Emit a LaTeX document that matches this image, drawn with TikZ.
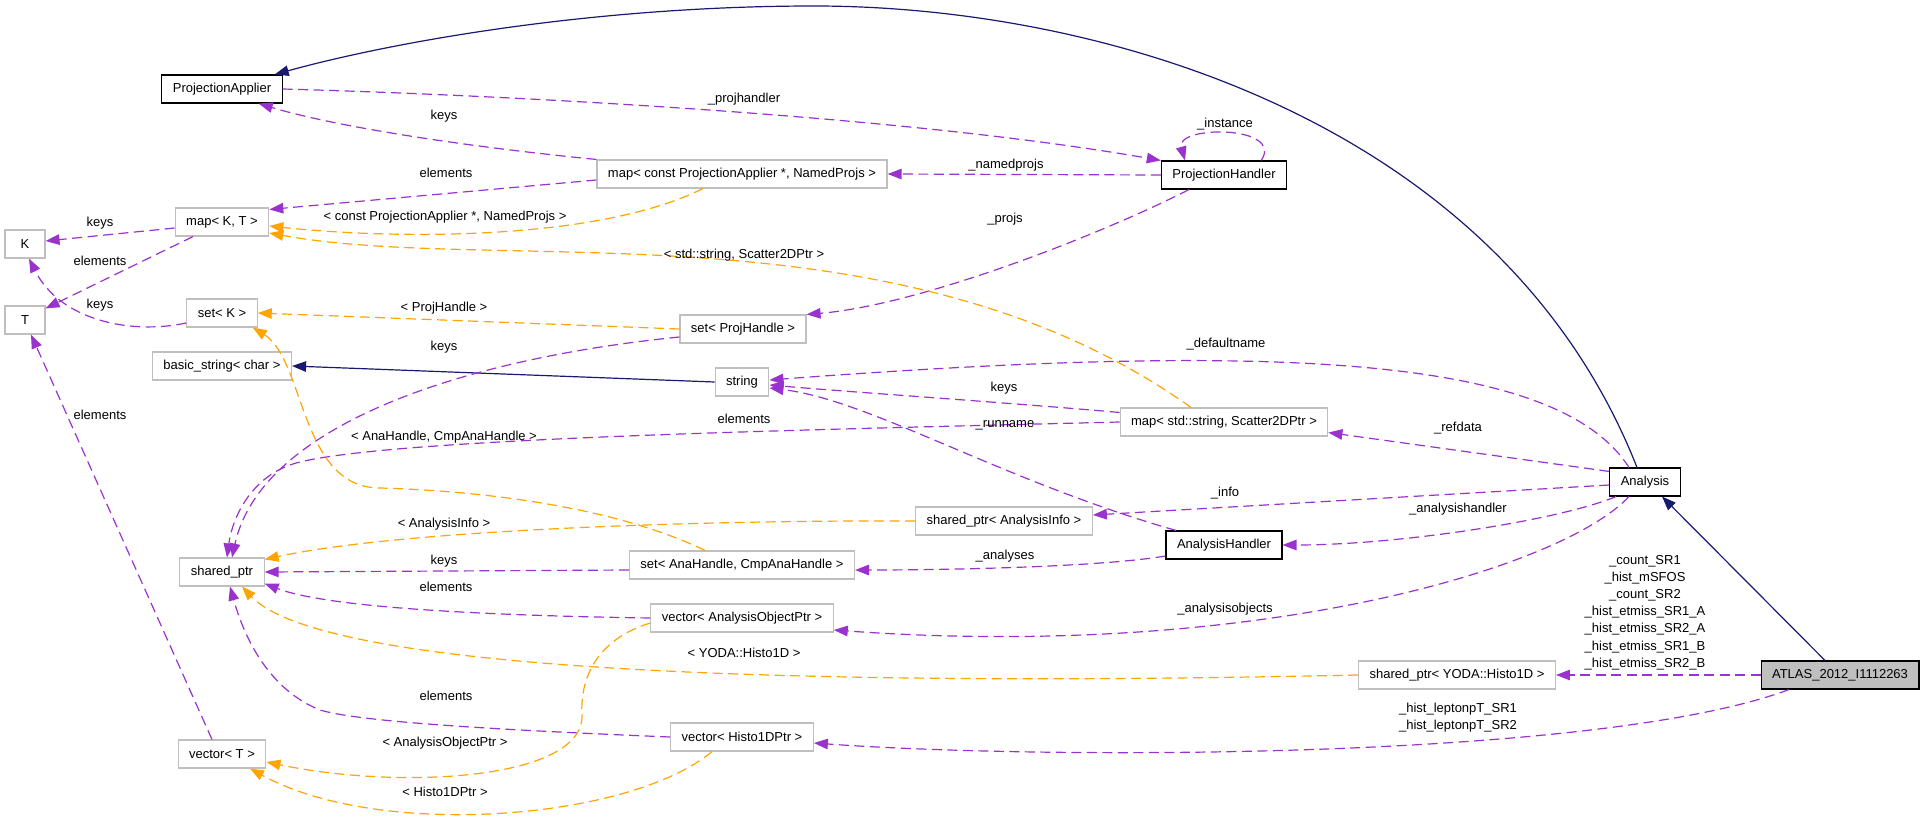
\documentclass[tikz,border=0pt]{standalone}
\usepackage{fontspec}
\setmainfont{Liberation Sans}
\usetikzlibrary{arrows.meta}
\definecolor{usecol}{HTML}{9A32CD}
\definecolor{instcol}{HTML}{FFA500}
\definecolor{inhcol}{HTML}{191970}
\definecolor{boxgray}{HTML}{BFBFBF}

\begin{document}
\begin{tikzpicture}[x=1pt,y=-1pt]
    \tikzset{
      every node/.style = {font = \fontsize{13}{17.2}\selectfont},
      Box/.style = {rectangle, draw = boxgray, line width = 1.1pt,
                    minimum height = 28pt, minimum width = 40pt,
                    inner xsep = 11pt, inner ysep = 0pt},
      ClassBox/.style = {Box, draw = black},
      MainBox/.style = {Box, draw = black, fill = boxgray},
      Lbl/.style = {inner sep = 0pt, align = center},
      UseEdge/.style = {usecol, line width = 1.2pt, dash pattern = on 10pt off 5.5pt,
                        -{Triangle[length = 14pt, width = 10.5pt]}},
      InstEdge/.style = {UseEdge, instcol},
      InhEdge/.style = {inhcol, line width = 1.2pt,
                        -{Triangle[length = 14pt, width = 10.5pt]}} }

      \fill[white] (0,0) rectangle (1923,824);
      \useasboundingbox (0,0) rectangle (1923,824);

      % left column
      \node[ClassBox] (pa)    at (222,89)  {ProjectionApplier};
      \node[Box]      (mapkt) at (222,222) {map< K, T >};
      \node[Box]      (K)     at (25,244)  {K};
      \node[Box]      (T)     at (25,320)  {T};
      \node[Box]      (setk)  at (222,313) {set< K >};
      \node[Box]      (bstr)  at (222,366) {basic\_string< char >};
      \node[Box]      (sptr)  at (222,572) {shared\_ptr};
      \node[Box]      (vect)  at (222,754) {vector< T >};

      % middle column
      \node[Box] (mapc)   at (742,174) {map< const ProjectionApplier *, NamedProjs >};
      \node[Box] (setph)  at (743,329) {set< ProjHandle >};
      \node[Box] (str)    at (742,382) {string};
      \node[Box] (setah)  at (742,565) {set< AnaHandle, CmpAnaHandle >};
      \node[Box] (vecaop) at (742,618) {vector< AnalysisObjectPtr >};
      \node[Box] (vech)   at (742,737) {vector< Histo1DPtr >};
      \node[Box] (sai)    at (1004,521) {shared\_ptr< AnalysisInfo >};

      % right part
      \node[ClassBox] (ph)    at (1224,175) {ProjectionHandler};
      \node[Box]      (mapss) at (1224,422) {map< std::string, Scatter2DPtr >};
      \node[ClassBox] (ah)    at (1224,545) {AnalysisHandler};
      \node[ClassBox] (ana)   at (1645,482) {Analysis};
      \node[Box]      (syh)   at (1457,675) {shared\_ptr< YODA::Histo1D >};
      \node[MainBox]  (atlas) at (1840,675) {ATLAS\_2012\_I1112263};

      % inheritance
      \draw[InhEdge] ([xshift=-8pt]ana.north) .. controls (1500,120) and (1100,6) .. (814,6)
                     .. controls (600,6) and (400,40) .. ([xshift=-8pt]pa.north east);
      \draw[InhEdge] ([xshift=-15pt]atlas.north) -- ([xshift=17pt]ana.south);
      \draw[InhEdge] (str.west) -- (bstr.east);

      % usage
      \draw[UseEdge] (pa.east) .. controls (500,95) and (900,115) .. (ph.north west);
      \draw[UseEdge] (mapc.north west) .. controls (450,145) and (330,125) .. ([xshift=-24pt]pa.south east);
      \draw[UseEdge] (ph.west) -- (mapc.east);
      \draw[UseEdge] ([xshift=-26pt]ph.north east) .. controls (1285,125) and (1175,125) .. ([xshift=-39pt]ph.north);
      \draw[UseEdge] ([yshift=-6pt]mapc.west) -- ([yshift=-2pt]mapkt.north east);
      \draw[UseEdge] ([yshift=-6pt]mapkt.west) -- ([yshift=3pt]K.east);
      \draw[UseEdge] ([xshift=-29pt]mapkt.south) -- ([yshift=-3pt]T.north east);
      \draw[UseEdge] ([yshift=-10pt]setk.west) .. controls (130,335) and (60,320) .. ([xshift=4pt]K.south);
      \draw[UseEdge] ([yshift=-8pt]setph.west) .. controls (450,360) and (260,430) .. ([xshift=10pt]sptr.north);
      \draw[UseEdge] ([xshift=-35pt]ph.south) .. controls (1100,235) and (920,305) .. (setph.north east);
      \draw[UseEdge] ([xshift=-16pt]ana.north) .. controls (1560,360) and (1300,340) .. ([yshift=2pt]str.east);
      \draw[UseEdge] ([yshift=-5pt]mapss.north west) .. controls (1000,402) and (850,392) .. ([yshift=-3pt]str.east);
      \draw[UseEdge] ([xshift=-48pt]ah.north) .. controls (1000,480) and (870,400) .. ([yshift=-6pt]str.east);
      \draw[UseEdge] (mapss.west) .. controls (800,430) and (400,438) .. (300,462)
                     .. controls (250,474) and (232,520) .. ([xshift=5pt]sptr.north);
      \draw[UseEdge] ([yshift=-4pt]ana.north west) -- ([yshift=4pt]mapss.south east);
      \draw[UseEdge] ([yshift=-3pt]ana.west) -- ([yshift=6pt]sai.east);
      \draw[UseEdge] ([xshift=-29pt]ana.south) .. controls (1560,520) and (1400,545) .. (ah.east);
      \draw[UseEdge] ([yshift=-11pt]ah.west) .. controls (1100,567) and (950,570) .. ([yshift=-5pt]setah.east);
      \draw[UseEdge] ([xshift=-16pt]ana.south) .. controls (1560,570) and (1250,660) .. ([yshift=-12pt]vecaop.east);
      \draw[UseEdge] (atlas.west) -- (syh.east);
      \draw[UseEdge] ([xshift=-51pt]atlas.south) .. controls (1600,760) and (1050,760) .. ([yshift=-6pt]vech.east);
      \draw[UseEdge] ([yshift=-5pt]setah.west) -- (sptr.east);
      \draw[UseEdge] (vecaop.west) .. controls (450,615) and (320,605) .. ([yshift=3pt]sptr.south east);
      \draw[UseEdge] (vech.west) .. controls (500,730) and (360,722) .. (320,710)
                     .. controls (270,690) and (245,640) .. ([xshift=8pt]sptr.south);
      \draw[UseEdge] ([xshift=-10pt]vect.north) -- ([xshift=6pt]T.south);

      % template instances
      \draw[InstEdge] ([xshift=-39pt]mapc.south) .. controls (600,240) and (400,240) .. ([yshift=-4pt]mapkt.east);
      \draw[InstEdge] ([xshift=-33pt]mapss.north) .. controls (900,200) and (500,275) .. ([yshift=-11pt]mapkt.east);
      \draw[InstEdge] (setph.west) -- (setk.east);
      \draw[InstEdge] ([xshift=-37pt]setah.north) .. controls (600,500) and (450,490) .. (380,488)
                      .. controls (300,488) and (305,360) .. ([xshift=-5pt]setk.south east);
      \draw[InstEdge] (sai.west) .. controls (700,520) and (400,530) .. ([yshift=-2pt]sptr.north east);
      \draw[InstEdge] (syh.west) .. controls (900,685) and (330,680) .. ([xshift=20pt]sptr.south);
      \draw[InstEdge] ([yshift=-5pt]vecaop.west) .. controls (595,640) and (580,680) .. (582,715)
                      .. controls (584,780) and (400,790) .. ([yshift=-8pt]vect.east);
      \draw[InstEdge] ([xshift=-30pt]vech.south) .. controls (630,820) and (380,840) .. ([xshift=28pt]vect.south);

      % edge labels
      \node[Lbl] (lprojhandler) at (744,99)   {\_projhandler};
      \node[Lbl] (lpakeys)      at (444,116)  {keys};
      \node[Lbl] (linstance)    at (1225,124) {\_instance};
      \node[Lbl] (lnamedprojs)  at (1006,165) {\_namedprojs};
      \node[Lbl] (lmapcelem)    at (446,173)  {elements};
      \node[Lbl] (lmapcinst)    at (445,217)  {< const ProjectionApplier *, NamedProjs >};
      \node[Lbl] (lkkeys)       at (100,223)  {keys};
      \node[Lbl] (lprojs)       at (1005,219) {\_projs};
      \node[Lbl] (lmapssinst)   at (744,255)  {< std::string, Scatter2DPtr >};
      \node[Lbl] (ltelem)       at (100,261)  {elements};
      \node[Lbl] (lsetkkeys)    at (100,305)  {keys};
      \node[Lbl] (lsetphinst)   at (444,308)  {< ProjHandle >};
      \node[Lbl] (ldefaultname) at (1226,344) {\_defaultname};
      \node[Lbl] (lsetphkeys)   at (444,347)  {keys};
      \node[Lbl] (lstrkeys)     at (1004,388) {keys};
      \node[Lbl] (lvectelem)    at (100,415)  {elements};
      \node[Lbl] (lmapsselem)   at (744,419)  {elements};
      \node[Lbl] (lrunname)     at (1005,425) {\_runname};
      \node[Lbl] (lrefdata)     at (1458,428) {\_refdata};
      \node[Lbl] (lsetahinst)   at (444,437)  {< AnaHandle, CmpAnaHandle >};
      \node[Lbl] (linfo)        at (1225,493) {\_info};
      \node[Lbl] (lanahandler)  at (1458,509) {\_analysishandler};
      \node[Lbl] (lsaiinst)     at (444,524)  {< AnalysisInfo >};
      \node[Lbl] (lanalyses)    at (1005,556) {\_analyses};
      \node[Lbl] (lsetahkeys)   at (444,561)  {keys};
      \node[Lbl] (lvecaopelem)  at (446,587)  {elements};
      \node[Lbl] (lanaobjects)  at (1225,609) {\_analysisobjects};
      \node[Lbl] (lhistos)      at (1645,612.5) {\_count\_SR1\\\_hist\_mSFOS\\\_count\_SR2\\\_hist\_etmiss\_SR1\_A\\\_hist\_etmiss\_SR2\_A\\\_hist\_etmiss\_SR1\_B\\\_hist\_etmiss\_SR2\_B};
      \node[Lbl] (lsyhinst)     at (744,653)  {< YODA::Histo1D >};
      \node[Lbl] (lvechelem)    at (446,696)  {elements};
      \node[Lbl] (lleptonpt)    at (1458,718) {\_hist\_leptonpT\_SR1\\\_hist\_leptonpT\_SR2};
      \node[Lbl] (lvecaopinst)  at (445,743)  {< AnalysisObjectPtr >};
      \node[Lbl] (lvechinst)    at (445,792)  {< Histo1DPtr >};
\end{tikzpicture}
\end{document}
